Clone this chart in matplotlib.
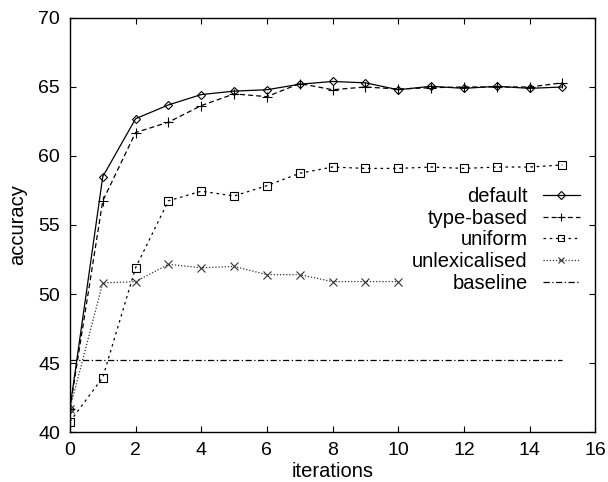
import numpy as np
import matplotlib
matplotlib.use("Agg")
import matplotlib.pyplot as plt

plt.rcParams['font.family'] = ['Liberation Sans', 'DejaVu Sans']

# accuracy per training iteration
iters = list(range(16))
default = [41.7, 58.5, 62.7, 63.7, 64.45, 64.7, 64.8, 65.2, 65.4, 65.3, 64.8, 65.05, 64.9, 65.05, 64.9, 65.0]
type_based = [41.7, 56.75, 61.7, 62.45, 63.65, 64.5, 64.3, 65.25, 64.8, 65.0, 64.85, 64.95, 65.0, 65.0, 65.0, 65.3]
uniform = [40.75, 43.95, 51.9, 56.75, 57.45, 57.1, 57.85, 58.75, 59.2, 59.1, 59.1, 59.2, 59.1, 59.2, 59.2, 59.35]
unlex_iters = list(range(11))
unlexicalised = [41.7, 50.8, 50.9, 52.15, 51.9, 52.0, 51.4, 51.4, 50.9, 50.9, 50.9]
baseline_x = [0, 15]
baseline = [45.25, 45.25]

fig = plt.figure(figsize=(6.08, 4.82), dpi=100)
ax = fig.add_axes([0.115, 0.1037, 0.864, 0.859])

lw = 0.9
ax.plot(iters, default, color='black', lw=lw, ls='-', marker='D', ms=4.5,
        mfc='none', mew=0.8, label='default')
ax.plot(iters, type_based, color='black', lw=lw, ls=(0, (4, 2.5)), marker='+', ms=7,
        mew=0.8, label='type-based')
ax.plot(iters, uniform, color='black', lw=lw, ls=(0, (2, 3)), marker='s', ms=5.5,
        mfc='none', mew=0.8, label='uniform')
ax.plot(unlex_iters, unlexicalised, color='#333333', lw=lw, ls=(0, (1, 1.5)), marker='x', ms=5.5,
        mew=0.8, label='unlexicalised')
ax.plot(baseline_x, baseline, color='black', lw=lw, ls=(0, (5, 2, 1, 2)), label='baseline')

ax.set_xlim(0, 16)
ax.set_ylim(40, 70)
ax.set_xticks(np.arange(0, 17, 2))
ax.set_yticks(np.arange(40, 71, 5))
ax.tick_params(direction='in', length=4.5, width=0.8, top=True, right=True,
               labelsize=14, pad=7)
for s in ax.spines.values():
    s.set_linewidth(1.0)

ax.set_xlabel('iterations', fontsize=14.5, labelpad=2)
ax.set_ylabel('accuracy', fontsize=14.5, labelpad=8)

ax.legend(loc='center right', bbox_to_anchor=(0.971, 0.464), frameon=False,
          markerfirst=False, fontsize=14.5, handlelength=1.85, handletextpad=0.75,
          labelspacing=0.13, borderpad=0, borderaxespad=0, markerscale=0.8)

fig.savefig('out.png', dpi=100)
